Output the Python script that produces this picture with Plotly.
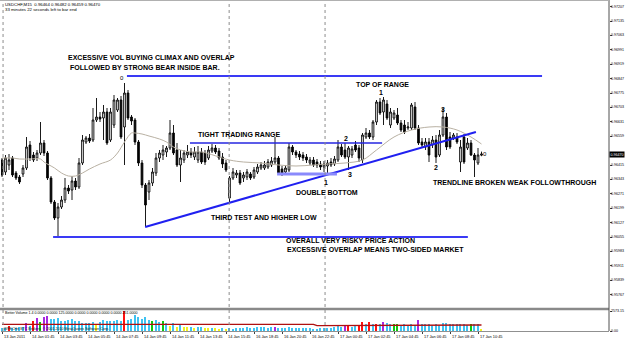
import plotly.graph_objects as go

# ---------------- data ----------------
symbol = "USDCHF,M15"
bars = list(range(138))

open_ = [0.96440, 0.96380, 0.96415, 0.96450, 0.96375, 0.96355, 0.96370, 0.96400, 0.96515, 0.96465,
         0.96450, 0.96475, 0.96525, 0.96475, 0.96350, 0.96230, 0.96150, 0.96205, 0.96240, 0.96300,
         0.96290, 0.96335, 0.96305, 0.96425, 0.96530, 0.96550, 0.96540, 0.96640, 0.96655, 0.96650,
         0.96680, 0.96540, 0.96615, 0.96690, 0.96740, 0.96605, 0.96775, 0.96655, 0.96640, 0.96530,
         0.96425, 0.96315, 0.96280, 0.96325, 0.96375, 0.96450, 0.96465, 0.96480, 0.96500, 0.96575,
         0.96490, 0.96415, 0.96440, 0.96465, 0.96480, 0.96455, 0.96440, 0.96480, 0.96475, 0.96450,
         0.96485, 0.96500, 0.96485, 0.96455, 0.96425, 0.96250, 0.96350, 0.96365, 0.96375, 0.96350,
         0.96355, 0.96370, 0.96355, 0.96380, 0.96400, 0.96400, 0.96405, 0.96415, 0.96430, 0.96450,
         0.96395, 0.96380, 0.96390, 0.96505, 0.96480, 0.96470, 0.96465, 0.96455, 0.96425, 0.96440,
         0.96430, 0.96420, 0.96405, 0.96410, 0.96430, 0.96420, 0.96440, 0.96505, 0.96490, 0.96455,
         0.96465, 0.96515, 0.96500, 0.96440, 0.96555, 0.96575, 0.96555, 0.96630, 0.96730, 0.96680,
         0.96720, 0.96615, 0.96650, 0.96665, 0.96625, 0.96615, 0.96600, 0.96600, 0.96705, 0.96600,
         0.96530, 0.96505, 0.96530, 0.96515, 0.96540, 0.96465, 0.96565, 0.96655, 0.96555, 0.96550,
         0.96555, 0.96430, 0.96555, 0.96500, 0.96525, 0.96465, 0.96425, 0.96464]
high = [0.96450, 0.96465, 0.96470, 0.96460, 0.96385, 0.96365, 0.96415, 0.96555, 0.96535, 0.96480,
        0.96490, 0.96630, 0.96540, 0.96485, 0.96360, 0.96240, 0.96225, 0.96260, 0.96350, 0.96315,
        0.96360, 0.96350, 0.96450, 0.96565, 0.96560, 0.96570, 0.96700, 0.96750, 0.96680, 0.96715,
        0.96700, 0.96700, 0.96765, 0.96750, 0.96760, 0.96825, 0.96790, 0.96665, 0.96650, 0.96540,
        0.96440, 0.96325, 0.96340, 0.96400, 0.96475, 0.96490, 0.96515, 0.96510, 0.96640, 0.96615,
        0.96525, 0.96490, 0.96490, 0.96515, 0.96500, 0.96505, 0.96510, 0.96500, 0.96490, 0.96510,
        0.96520, 0.96515, 0.96500, 0.96475, 0.96440, 0.96360, 0.96400, 0.96390, 0.96390, 0.96380,
        0.96395, 0.96380, 0.96405, 0.96420, 0.96430, 0.96435, 0.96445, 0.96455, 0.96555, 0.96460,
        0.96410, 0.96415, 0.96525, 0.96515, 0.96490, 0.96485, 0.96480, 0.96470, 0.96455, 0.96455,
        0.96445, 0.96435, 0.96435, 0.96440, 0.96450, 0.96460, 0.96540, 0.96520, 0.96525, 0.96510,
        0.96510, 0.96535, 0.96515, 0.96575, 0.96600, 0.96590, 0.96640, 0.96740, 0.96750, 0.96755,
        0.96740, 0.96700, 0.96690, 0.96700, 0.96640, 0.96640, 0.96630, 0.96725, 0.96730, 0.96615,
        0.96550, 0.96550, 0.96550, 0.96560, 0.96565, 0.96590, 0.96700, 0.96675, 0.96580, 0.96575,
        0.96575, 0.96540, 0.96570, 0.96550, 0.96540, 0.96475, 0.96500, 0.96482]
low = [0.96355, 0.96365, 0.96390, 0.96355, 0.96340, 0.96320, 0.96355, 0.96390, 0.96435, 0.96430,
       0.96435, 0.96465, 0.96460, 0.96340, 0.96220, 0.96140, 0.96055, 0.96195, 0.96225, 0.96270,
       0.96240, 0.96290, 0.96295, 0.96415, 0.96520, 0.96525, 0.96530, 0.96630, 0.96630, 0.96540,
       0.96515, 0.96530, 0.96600, 0.96680, 0.96545, 0.96415, 0.96640, 0.96615, 0.96515, 0.96410,
       0.96300, 0.96105, 0.96240, 0.96310, 0.96360, 0.96430, 0.96440, 0.96455, 0.96490, 0.96465,
       0.96405, 0.96330, 0.96425, 0.96450, 0.96450, 0.96440, 0.96425, 0.96420, 0.96415, 0.96440,
       0.96475, 0.96470, 0.96440, 0.96400, 0.96380, 0.96225, 0.96340, 0.96350, 0.96315, 0.96330,
       0.96340, 0.96340, 0.96345, 0.96370, 0.96390, 0.96390, 0.96395, 0.96405, 0.96420, 0.96365,
       0.96360, 0.96370, 0.96380, 0.96465, 0.96450, 0.96440, 0.96435, 0.96425, 0.96415, 0.96405,
       0.96400, 0.96390, 0.96380, 0.96365, 0.96405, 0.96410, 0.96430, 0.96455, 0.96445, 0.96390,
       0.96450, 0.96480, 0.96430, 0.96425, 0.96545, 0.96545, 0.96540, 0.96615, 0.96665, 0.96615,
       0.96640, 0.96600, 0.96640, 0.96615, 0.96580, 0.96570, 0.96590, 0.96590, 0.96590, 0.96515,
       0.96505, 0.96490, 0.96430, 0.96500, 0.96425, 0.96455, 0.96555, 0.96490, 0.96495, 0.96540,
       0.96520, 0.96380, 0.96420, 0.96490, 0.96460, 0.96355, 0.96415, 0.96459]
close = [0.96365, 0.96450, 0.96440, 0.96365, 0.96350, 0.96330, 0.96400, 0.96505, 0.96450, 0.96440,
         0.96475, 0.96525, 0.96475, 0.96350, 0.96230, 0.96150, 0.96205, 0.96240, 0.96300, 0.96285,
         0.96335, 0.96305, 0.96425, 0.96540, 0.96550, 0.96535, 0.96640, 0.96655, 0.96645, 0.96680,
         0.96525, 0.96680, 0.96740, 0.96740, 0.96555, 0.96775, 0.96650, 0.96635, 0.96530, 0.96425,
         0.96315, 0.96215, 0.96325, 0.96380, 0.96450, 0.96475, 0.96490, 0.96500, 0.96575, 0.96475,
         0.96415, 0.96450, 0.96475, 0.96480, 0.96465, 0.96480, 0.96480, 0.96430, 0.96430, 0.96490,
         0.96500, 0.96480, 0.96450, 0.96420, 0.96390, 0.96350, 0.96380, 0.96375, 0.96325, 0.96365,
         0.96380, 0.96350, 0.96390, 0.96405, 0.96415, 0.96415, 0.96430, 0.96435, 0.96450, 0.96375,
         0.96375, 0.96400, 0.96505, 0.96480, 0.96465, 0.96455, 0.96450, 0.96440, 0.96440, 0.96415,
         0.96415, 0.96405, 0.96420, 0.96425, 0.96415, 0.96445, 0.96505, 0.96465, 0.96455, 0.96500,
         0.96495, 0.96490, 0.96450, 0.96565, 0.96575, 0.96555, 0.96630, 0.96730, 0.96675, 0.96740,
         0.96650, 0.96680, 0.96675, 0.96625, 0.96590, 0.96580, 0.96605, 0.96715, 0.96600, 0.96525,
         0.96515, 0.96530, 0.96465, 0.96540, 0.96455, 0.96565, 0.96655, 0.96505, 0.96505, 0.96565,
         0.96530, 0.96505, 0.96430, 0.96525, 0.96465, 0.96440, 0.96465, 0.96470]

# moving average read at a few bars
ma_bar = [0, 3, 5, 8, 11, 12, 15, 17, 19, 21, 23, 25, 28, 31, 33, 35, 37, 38, 40, 42,
          45, 47, 49, 51, 54, 57, 65, 69, 74, 79, 84, 89, 93, 98, 103, 107, 112, 117, 122, 126,
          130, 134, 137]
ma_val = [0.96450, 0.96450, 0.96445, 0.96445, 0.96445, 0.96430, 0.96400, 0.96375, 0.96360, 0.96360,
          0.96375, 0.96395, 0.96420, 0.96440, 0.96475, 0.96530, 0.96575, 0.96575, 0.96570, 0.96560,
          0.96545, 0.96530, 0.96505, 0.96490, 0.96480, 0.96480, 0.96440, 0.96430, 0.96425, 0.96415,
          0.96410, 0.96415, 0.96420, 0.96425, 0.96440, 0.96490, 0.96555, 0.96590, 0.96605, 0.96605,
          0.96590, 0.96555, 0.96520]

# Better Volume
volume = [390, 390, 650, 390, 390, 520, 520, 1030, 650, 1290,
          1680, 1160, 1810, 1940, 1550, 1550, 1680, 1290, 1290, 1420,
          1550, 1290, 1290, 1030, 1030, 1030, 1160, 770, 1160, 1420,
          1290, 1290, 1290, 1420, 1290, 2573, 1420, 1550, 2060, 1810,
          1550, 1810, 1420, 1290, 1420, 1160, 1290, 1030, 650, 1030,
          520, 770, 520, 520, 520, 390, 520, 520, 390, 390,
          390, 390, 260, 390, 260, 390, 260, 390, 390, 390,
          520, 390, 390, 520, 520, 520, 390, 520, 520, 390,
          390, 390, 520, 390, 390, 390, 390, 390, 390, 260,
          260, 390, 390, 390, 390, 520, 650, 520, 650, 770,
          520, 650, 770, 1160, 900, 1160, 900, 900, 900, 1160,
          1030, 900, 900, 900, 770, 900, 770, 900, 770, 1420,
          900, 900, 900, 770, 900, 770, 1030, 1030, 900, 900,
          900, 900, 900, 770, 900, 900, 900, 260]
vol_class = list("NNCNNNNPNC" "PHPPNNNNNN" "NNNNNNNLNN" "NNNNNCNNNN" "NNNHNNHNLN"
                 "LNLLNLNNLL" "NLLNLNNNNN" "NNNNNNNNPN" "NNNNNNNNNN" "NNNNNNNNPC"
                 "NNCCNCNCNP" "NNHHNNNNNP" "NNNNNNNNNN" "NNNNHNNL")
vol_avg_bar = [0, 89, 90, 98, 99, 137]
vol_avg = [860, 860, 680, 680, 775, 775]

price_ticks = [0.97207, 0.97135, 0.97063, 0.96991, 0.96919, 0.96847, 0.96775, 0.96703,
               0.96631, 0.96559, 0.96415, 0.96343, 0.96271, 0.96199, 0.96127, 0.96055,
               0.95983, 0.95911, 0.95839, 0.95767]
vol_ticks = [2573.15, 0]
vol_tick_text = ["2573.15", "0.00"]
time_tick_bars = [0, 8, 16, 24, 32, 40, 48, 56, 64, 72, 80, 88, 96, 104, 112, 120, 128, 136]
time_labels = ["13 Jan 2011", "14 Jan 01:45", "14 Jan 03:45", "14 Jan 05:45", "14 Jan 07:45",
               "14 Jan 09:45", "14 Jan 11:45", "14 Jan 13:45", "14 Jan 15:45", "16 Jan 18:45",
               "16 Jan 20:45", "16 Jan 22:45", "17 Jan 00:45", "17 Jan 02:45", "17 Jan 04:45",
               "17 Jan 06:45", "17 Jan 08:45", "17 Jan 10:45"]
day_sep_bars = [0.3, 64.9, 92.3]

# hand-drawn objects (bar, price)
climax_top_bar, climax_top_px = [35.7, 154.3], [0.96860, 0.96860]
range_low_bar, range_low_px = [14.6, 133.1], [0.96055, 0.96055]
trend_bar, trend_px = [40.9, 135.4], [0.96105, 0.96580]
tight_bar, tight_px = [53.7, 108.6], [0.96525, 0.96525]
dbl_bar, dbl_px = [78.6, 95.7], [0.96370, 0.96370]
last_price = 0.96470

# ---------------- layout helpers ----------------
W, H = 625, 340
ML, MR, MT, MB = 1, 16, 0, 9
PW, PH = W - ML - MR, H - MT - MB


def X(px):
    return (px - ML) / PW


def Y(py):
    return (H - MB - py) / PH


VOL_COLORS = {"N": "#3ec3f2", "C": "#ff1010", "L": "#f2f020", "H": "#10c810", "P": "#a828e0"}
FONT = "Arial, Liberation Sans, sans-serif"

fig = go.Figure()

fig.add_trace(go.Scatter(x=ma_bar, y=ma_val, mode="lines", line=dict(color="#b9b1a3", width=1, shape="spline"),
                         hoverinfo="skip", xaxis="x", yaxis="y"))

fig.add_trace(go.Candlestick(
    x=bars, open=open_, high=high, low=low, close=close,
    increasing=dict(line=dict(color="#000000", width=0.9), fillcolor="#ffffff"),
    decreasing=dict(line=dict(color="#000000", width=0.9), fillcolor="#000000"),
    whiskerwidth=0, hoverinfo="skip", xaxis="x", yaxis="y"))

for bx, py, col, wd in [(climax_top_bar, climax_top_px, "#3a3af5", 2),
                        (range_low_bar, range_low_px, "#3a3af5", 2),
                        (trend_bar, trend_px, "#2020f0", 2),
                        (tight_bar, tight_px, "#2626e0", 1.5),
                        (dbl_bar, dbl_px, "#8a8afc", 3)]:
    fig.add_trace(go.Scatter(x=bx, y=py, mode="lines", line=dict(color=col, width=wd),
                             hoverinfo="skip", xaxis="x", yaxis="y"))

fig.add_trace(go.Bar(x=bars, y=volume, marker=dict(color=[VOL_COLORS[c] for c in vol_class], line=dict(width=0)),
                     width=0.5, hoverinfo="skip", xaxis="x2", yaxis="y2"))
fig.add_trace(go.Scatter(x=vol_avg_bar, y=vol_avg, mode="lines", line=dict(color="#b01010", width=1.3),
                         hoverinfo="skip", xaxis="x2", yaxis="y2"))

xr = [-(2 - ML) / 3.5, -(2 - ML) / 3.5 + PW / 3.5]

shapes = []
for b in day_sep_bars:
    shapes.append(dict(type="line", xref="x", yref="paper", x0=b, x1=b, y0=0, y1=1,
                       line=dict(color="#8c8c8c", width=1, dash="dot")))
shapes.append(dict(type="line", xref="paper", yref="paper", x0=X(0), x1=1, y0=Y(309), y1=Y(309),
                   line=dict(color="#8a8a8a", width=2.5)))
shapes.append(dict(type="line", xref="paper", yref="paper", x0=1, x1=1, y0=0, y1=Y(0),
                   line=dict(color="#505050", width=1)))
shapes.append(dict(type="line", xref="paper", yref="paper", x0=X(0), x1=1, y0=Y(0.5), y1=Y(0.5),
                   line=dict(color="#b0b0b0", width=1)))

ann = []


def txt(x, y, s, size=7, anchor="left", bold=True, color="black"):
    ann.append(dict(x=X(x), y=Y(y), xref="paper", yref="paper", text=s, showarrow=False,
                    xanchor=anchor, yanchor="middle",
                    font=dict(family=FONT, size=size, color=color, weight="bold" if bold else "normal")))


txt(66, 57, "EXCESSIVE VOL BUYING CLIMAX AND OVERLAP")
txt(68, 67, "FOLLOWED BY STRONG BEAR INSIDE BAR.")
txt(354, 84, "TOP OF RANGE")
txt(381, 92, "1", anchor="center")
txt(443, 109, "3", anchor="center")
txt(196, 134, "TIGHT TRADING RANGE")
txt(346, 139, "2", anchor="center")
txt(350, 175, "3", anchor="center")
txt(326, 183, "1", anchor="center")
txt(294, 192, "DOUBLE BOTTOM")
txt(209, 217, "THIRD TEST AND HIGHER LOW")
txt(436, 167, "2", anchor="center")
txt(431, 183, "TRENDLINE BROKEN WEAK FOLLOWTHROUGH")
txt(284, 240, "OVERALL VERY RISKY PRICE ACTION")
txt(285, 249, "EXCESSIVE OVERLAP MEANS TWO-SIDED MARKET")
txt(122, 78, "0", size=6, anchor="center", bold=False)
txt(485, 154, "0", size=6, anchor="center", bold=False)
txt(3, 4, symbol + "  0.96464 0.96482 0.96459 0.96470", size=4.3, bold=False)
txt(3, 9.5, "33 minutes 22 seconds left to bar end", size=4.3, bold=False)
txt(3, 313, "Better Volume 1.4 0.0000 0.0000 125.0000 0.0000 0.0000 0.0000 0.0000 251.0000", size=3.6, bold=False)
txt(2, 329, "WFECHn BTC Brokers  \u00a9 2001-2010 MetaQuotes Software Corp.", size=3.6, bold=False, color="#202020")

# right price scale labels
for v in price_ticks:
    ann.append(dict(x=X(610), y=v, xref="paper", yref="y", text=f"{v:.5f}", showarrow=False,
                    xanchor="left", yanchor="middle", borderpad=0,
                    font=dict(family=FONT, size=3.6, color="black")))
for v, t in zip(vol_ticks, vol_tick_text):
    ann.append(dict(x=X(610), y=v, xref="paper", yref="y2", text=t, showarrow=False,
                    xanchor="left", yanchor="middle", borderpad=0,
                    font=dict(family=FONT, size=3.6, color="black")))
# time labels (left-aligned at their tick)
for b, t in zip(time_tick_bars, time_labels):
    ann.append(dict(x=b, y=Y(336), xref="x2", yref="paper", text=t, showarrow=False,
                    xanchor="left", yanchor="middle", font=dict(family=FONT, size=3.9, color="black")))

ann.append(dict(x=X(609), y=last_price, xref="paper", yref="y", text="0.96470", showarrow=False,
                xanchor="left", yanchor="middle", bgcolor="#000000", borderpad=0.5,
                font=dict(family=FONT, size=3.6, color="white")))

fig.update_layout(
    width=W, height=H, margin=dict(l=ML, r=MR, t=MT, b=MB),
    paper_bgcolor="white", plot_bgcolor="white", showlegend=False,
    shapes=shapes, annotations=ann, bargap=0,
    xaxis=dict(domain=[0, 1], anchor="y", range=xr, showticklabels=False, showgrid=False, zeroline=False,
               rangeslider=dict(visible=False), automargin=False),
    yaxis=dict(domain=[Y(308), 1], anchor="x", side="right", range=[0.95700, 0.97240],
               tickvals=price_ticks, showticklabels=False,
               ticks="outside", ticklen=2, tickcolor="#404040", showgrid=False, zeroline=False,
               automargin=False),
    xaxis2=dict(domain=[0, 1], anchor="y2", range=xr, tickvals=time_tick_bars, showticklabels=False,
                ticks="outside", ticklen=2, tickcolor="#404040",
                showline=True, linecolor="#909090", linewidth=1, showgrid=False, zeroline=False,
                automargin=False),
    yaxis2=dict(domain=[0, Y(310)], anchor="x2", side="right", range=[0, 2702],
                tickvals=vol_ticks, showticklabels=False, ticks="outside", ticklen=2,
                tickcolor="#404040", showgrid=False, zeroline=False, automargin=False),
)

fig.write_html("out.html")
